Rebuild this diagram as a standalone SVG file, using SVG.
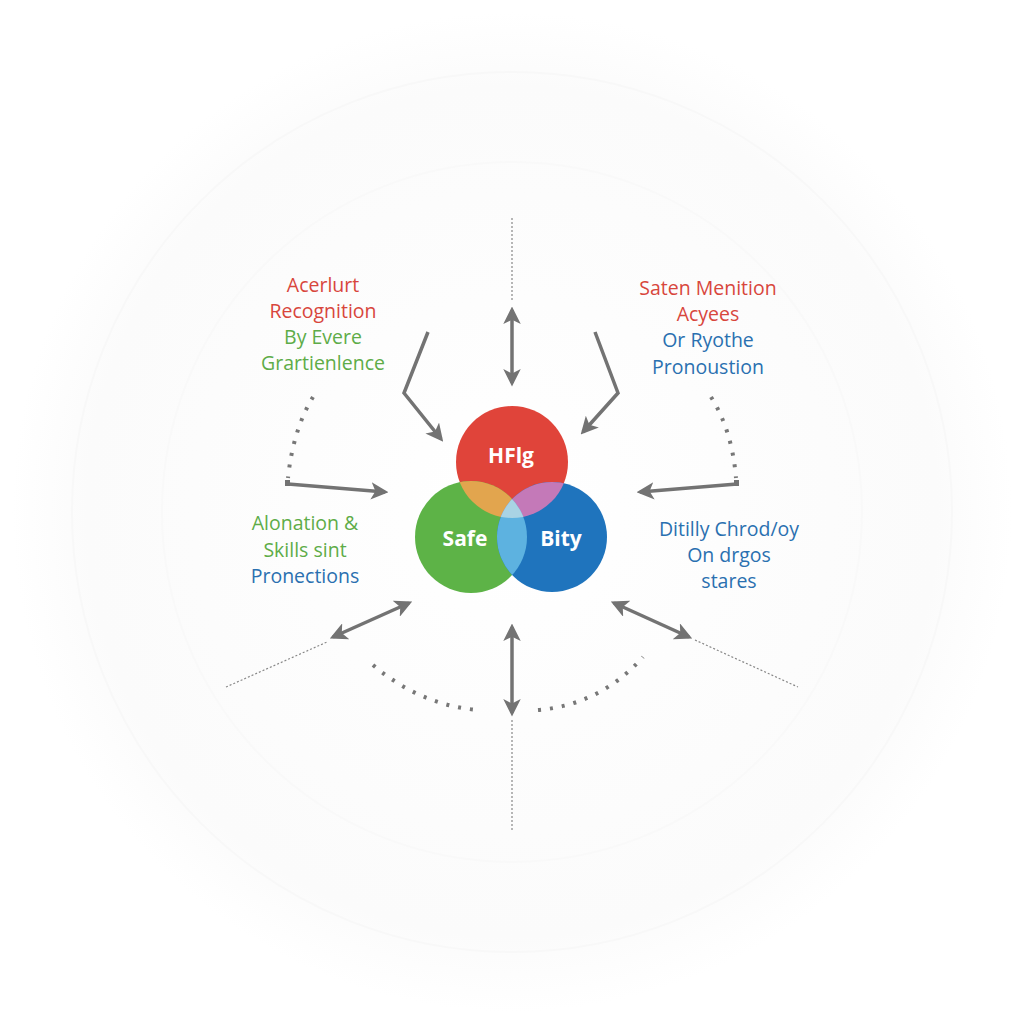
<svg xmlns="http://www.w3.org/2000/svg" width="1024" height="1024" viewBox="0 0 1024 1024">
<style>
.t{font-family:"Open Sans","Noto Sans",sans-serif;font-size:19.5px;text-anchor:middle}
.r{fill:#D8463C}.g{fill:#5EAC48}.b{fill:#2A70B0}
.cl{font-family:"Open Sans","Noto Sans",sans-serif;font-size:21px;font-weight:bold;fill:#fff;text-anchor:middle}
.ln{stroke:#737373;stroke-width:3.5;fill:none}
.dt{stroke:#777;stroke-width:4;fill:none;stroke-dasharray:3 9}
.fine{stroke:#888;stroke-width:1.2;fill:none;stroke-dasharray:2 2}
</style>
<defs>
<marker id="ah" viewBox="0 0 10 10" refX="8" refY="5" markerWidth="5" markerHeight="5" orient="auto-start-reverse" markerUnits="strokeWidth">
<path d="M0,0 L10,5 L0,10 L2.5,5 z" fill="#737373"/>
</marker>
<radialGradient id="bg" cx="512" cy="512" r="500" gradientUnits="userSpaceOnUse">
<stop offset="0" stop-color="#ffffff"/>
<stop offset="0.85" stop-color="#fbfbfb"/>
<stop offset="1" stop-color="#ffffff"/>
</radialGradient>
<clipPath id="cR"><circle cx="512" cy="462" r="56"/></clipPath>
<clipPath id="cG"><circle cx="471" cy="537" r="56"/></clipPath>
<clipPath id="cB"><circle cx="552" cy="537" r="55"/></clipPath>
</defs>
<rect width="1024" height="1024" fill="#fff"/>
<circle cx="512" cy="512" r="500" fill="url(#bg)"/>
<circle cx="512" cy="512" r="440" fill="none" stroke="#f8f8f8" stroke-width="2"/>
<circle cx="512" cy="512" r="350" fill="none" stroke="#f9f9f9" stroke-width="2"/>

<g id="connectors">
<line class="fine" x1="512" y1="218" x2="512" y2="300"/>
<line class="ln" x1="512" y1="310" x2="512" y2="383" marker-start="url(#ah)" marker-end="url(#ah)"/>
<polyline class="ln" points="428,332 404,393 441,439" marker-end="url(#ah)"/>
<polyline class="ln" points="595,332 618,393 583,432" marker-end="url(#ah)"/>
<path class="dt" d="M313,397 Q293,430 288,478"/>
<path d="M285,480 h5 v6 h-5 z" fill="#737373"/>
<line class="ln" x1="288" y1="484" x2="385" y2="492" marker-end="url(#ah)"/>
<path class="dt" d="M711,397 Q732,430 736,478"/>
<path d="M734,480 h5 v6 h-5 z" fill="#737373"/>
<line class="ln" x1="737" y1="484" x2="640" y2="492" marker-end="url(#ah)"/>
<line class="fine" x1="226" y1="687" x2="327" y2="642"/>
<line class="ln" x1="333" y1="637" x2="409" y2="603" marker-start="url(#ah)" marker-end="url(#ah)"/>
<line class="fine" x1="695" y1="640" x2="798" y2="687"/>
<line class="ln" x1="689" y1="637" x2="614" y2="603" marker-start="url(#ah)" marker-end="url(#ah)"/>
<line class="ln" x1="512" y1="627" x2="512" y2="713" marker-start="url(#ah)" marker-end="url(#ah)"/>
<line class="fine" x1="512" y1="720" x2="512" y2="832"/>
<path class="dt" d="M373,665 Q420,705 478,710"/>
<path class="dt" d="M538,710 Q600,705 643,657"/>
</g>

<g id="venn">
<circle cx="512" cy="462" r="56" fill="#E0443A"/>
<circle cx="471" cy="537" r="56" fill="#5DB347"/>
<circle cx="552" cy="537" r="55" fill="#1F74BD"/>
<g clip-path="url(#cR)"><circle cx="471" cy="537" r="56" fill="#E2A54E"/></g>
<g clip-path="url(#cR)"><circle cx="552" cy="537" r="55" fill="#C479B8"/></g>
<g clip-path="url(#cG)"><circle cx="552" cy="537" r="55" fill="#5DB2E0"/></g>
<g clip-path="url(#cR)"><g clip-path="url(#cG)"><circle cx="552" cy="537" r="55" fill="#A9D3E4"/></g></g>
</g>
<g id="node-hflg"><text class="cl" x="511" y="463">HFlg</text></g>
<g id="node-safe"><text class="cl" x="465" y="546">Safe</text></g>
<g id="node-bity"><text class="cl" x="561" y="546">Bity</text></g>

<g id="label-tl">
<text class="t r" x="323" y="292">Acerlurt</text>
<text class="t r" x="323" y="318">Recognition</text>
<text class="t g" x="323" y="344">By Evere</text>
<text class="t g" x="323" y="370">Grartienlence</text>
</g>
<g id="label-tr">
<text class="t r" x="708" y="295">Saten Menition</text>
<text class="t r" x="708" y="321">Acyees</text>
<text class="t b" x="708" y="347">Or Ryothe</text>
<text class="t b" x="708" y="374">Pronoustion</text>
</g>
<g id="label-ml">
<text class="t g" x="305" y="530">Alonation &amp;</text>
<text class="t g" x="305" y="557">Skills sint</text>
<text class="t b" x="305" y="583">Pronections</text>
</g>
<g id="label-mr">
<text class="t b" x="729" y="536">Ditilly Chrod/oy</text>
<text class="t b" x="729" y="562">On drgos</text>
<text class="t b" x="729" y="588">stares</text>
</g>
</svg>
